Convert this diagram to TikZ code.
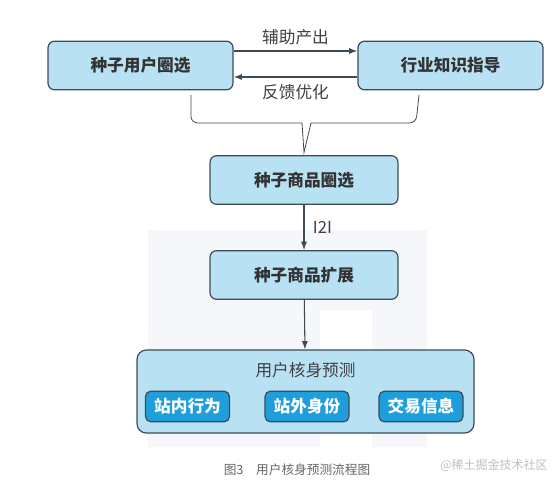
\documentclass[tikz,border=0pt]{standalone}
\usepackage{fontspec}
\setmainfont{Noto Sans CJK SC}
\usetikzlibrary{arrows.meta,positioning}
\definecolor{boxblue}{HTML}{B8E2F4}
\definecolor{chipblue}{HTML}{1E9FDB}
\definecolor{edgegray}{HTML}{3E4B55}
\definecolor{bgshade}{HTML}{F6F7FA}

\begin{document}
\begin{tikzpicture}[x=0.75pt, y=-0.75pt,
  box/.style={draw=edgegray, fill=boxblue, line width=0.9pt, rounded corners=5pt,
    minimum width=138.75pt, minimum height=36.5pt, text=black!80,
    font=\fontsize{12.5}{14}\selectfont\bfseries},
  chip/.style={draw=edgegray, fill=chipblue, line width=0.9pt, rounded corners=4pt,
    minimum width=63pt, minimum height=23pt, text=white, inner sep=0pt,
    font=\fontsize{12.5}{14}\selectfont\bfseries},
  link/.style={draw=edgegray, line width=0.8pt, -{Latex[length=2.2mm,width=1.6mm]}},
  tag/.style={text=black!75, font=\fontsize{12.5}{14}\selectfont}]
\useasboundingbox (0,0) rectangle (560,487);
% ================= faint backdrop =================
\fill[bgshade] (148,230) -- (427,230) -- (427,447) -- (372,447) -- (372,310)
   -- (320,310) -- (320,447) -- (148,447) -- cycle;
% ================= top row =================
\node[box] (seedu) at (140.5,65.5) {种子用户圈选};
\node[box] (know) at (450.5,65.5) {行业知识指导};
\draw[link] ([yshift=10.9pt]seedu.east) -- ([yshift=10.9pt]know.west)
   node[tag, midway, above=1pt] (assist) {辅助产出};
\draw[link] ([yshift=-8.6pt]know.west) -- ([yshift=-8.6pt]seedu.east)
   node[tag, midway, below=2pt] (feedback) {反馈优化};
% brace joining both into the item selection
\node[box, minimum width=141pt] (seedp) at (304,180) {种子商品圈选};
\coordinate (bl) at (191,95);
\coordinate (br) at (419,95);
\draw[edgegray, line width=0.6pt]
   (bl) [rounded corners=5pt] -- (191,123) [sharp corners] -- (302,123)
   -- ([yshift=2pt]seedp.north) -- (311,123) [rounded corners=5pt] -- (416,123)
   [sharp corners] -- (br);
% ================= item expansion =================
\node[box, minimum width=141pt] (expand) at (304,275) {种子商品扩展};
\draw[link] (seedp) -- (expand) node[tag, midway, right=3pt] (i2i) {I2I};
% ================= user prediction =================
\node[box, minimum width=252.75pt, minimum height=62.25pt, rounded corners=7pt]
   (predict) at (305.5,391.5) {};
\node[tag] (ptitle) at (305.5,370) {用户核身预测};
\draw[link] (expand) -- (predict);
\node[chip] (inside) at (187.5,406.5) {站内行为};
\node[chip] (outside) at (307,406.5) {站外身份};
\node[chip] (trade) at (421,406.5) {交易信息};
% ================= caption =================
\node[text=black!60, font=\fontsize{9.5}{11}\selectfont] (cap) at (297,470)
   {图3\quad 用户核身预测流程图};
\node[text=black!25, font=\fontsize{9}{11}\selectfont] (mark) at (494,465)
   {@稀土掘金技术社区};
\end{tikzpicture}
\end{document}
